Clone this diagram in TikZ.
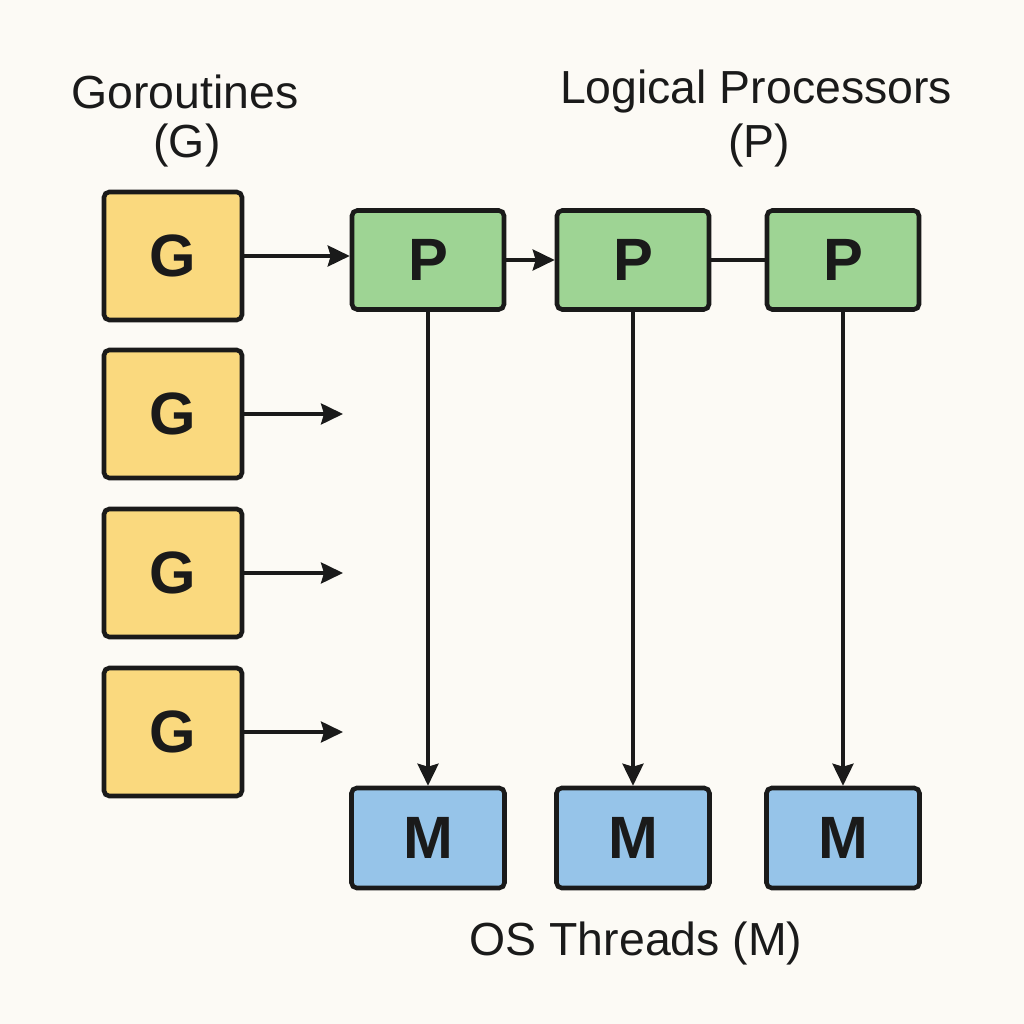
\documentclass[tikz,border=0pt]{standalone}
\usepackage{fontspec}
\setmainfont{Liberation Sans}
\usetikzlibrary{arrows.meta}
\definecolor{bgcol}{HTML}{FCFAF5}
\definecolor{gcol}{HTML}{FAD97E}
\definecolor{pcol}{HTML}{9ED494}
\definecolor{mcol}{HTML}{96C4E9}
\definecolor{ink}{HTML}{1A1A1A}
\begin{document}
\begin{tikzpicture} [scale = 1,
  box/.style = {draw = ink, line width = 1.3pt, rounded corners = 1.5pt, inner sep = 0pt,
    font = \fontsize{17}{20}\selectfont\bfseries, text = ink},
  gbox/.style = {box, fill = gcol, minimum width = 1.38cm, minimum height = 1.28cm},
  pbox/.style = {box, fill = pcol, minimum width = 1.52cm, minimum height = 0.99cm},
  mbox/.style = {box, fill = mcol, minimum width = 1.53cm, minimum height = 1.00cm},
  title/.style = {text = ink, font = \fontsize{13.2}{16}\selectfont},
  arr/.style = {draw = ink, line width = 1pt, -{Stealth[length = 2.2mm, width = 2.1mm, inset = 0.3mm]}}]
\fill[bgcol] (0, 0) rectangle (10.24, 10.24);
\useasboundingbox (0, 0) rectangle (10.24, 10.24);
\node[title] (gtitle) at (1.85, 9.32){Goroutines};
\node[title] (gsub) at (1.87, 8.79){(G)};
\node[title] (ptitle) at (7.56, 9.32){Logical Processors};
\node[title] (psub) at (7.59, 8.79){(P)};
\node[title] (mtitle) at (6.36, 0.81){OS Threads (M)};
\node[gbox] (g1) at (1.73, 7.68){G};
\node[gbox] (g2) at (1.73, 6.10){G};
\node[gbox] (g3) at (1.73, 4.51){G};
\node[gbox] (g4) at (1.73, 2.92){G};
\node[pbox] (p1) at (4.28, 7.64){P};
\node[pbox] (p2) at (6.33, 7.64){P};
\node[pbox] (p3) at (8.43, 7.64){P};
\node[mbox] (m1) at (4.28, 1.86){M};
\node[mbox] (m2) at (6.33, 1.86){M};
\node[mbox] (m3) at (8.43, 1.86){M};
\coordinate (e2) at (3.43, 6.10);
\coordinate (e3) at (3.43, 4.51);
\coordinate (e4) at (3.43, 2.92);
\draw[arr] (g1.east) -- (p1.west |- g1.east);
\draw[arr] (g2.east) -- (e2);
\draw[arr] (g3.east) -- (e3);
\draw[arr] (g4.east) -- (e4);
\draw[arr] (p1.east) -- (p2.west);
\draw[draw = ink, line width = 1pt] (p2.east) -- (p3.west);
\foreach \i in {1, 2, 3}
  \draw[arr] (p\i.south) -- (m\i.north);
\end{tikzpicture}
\end{document}
